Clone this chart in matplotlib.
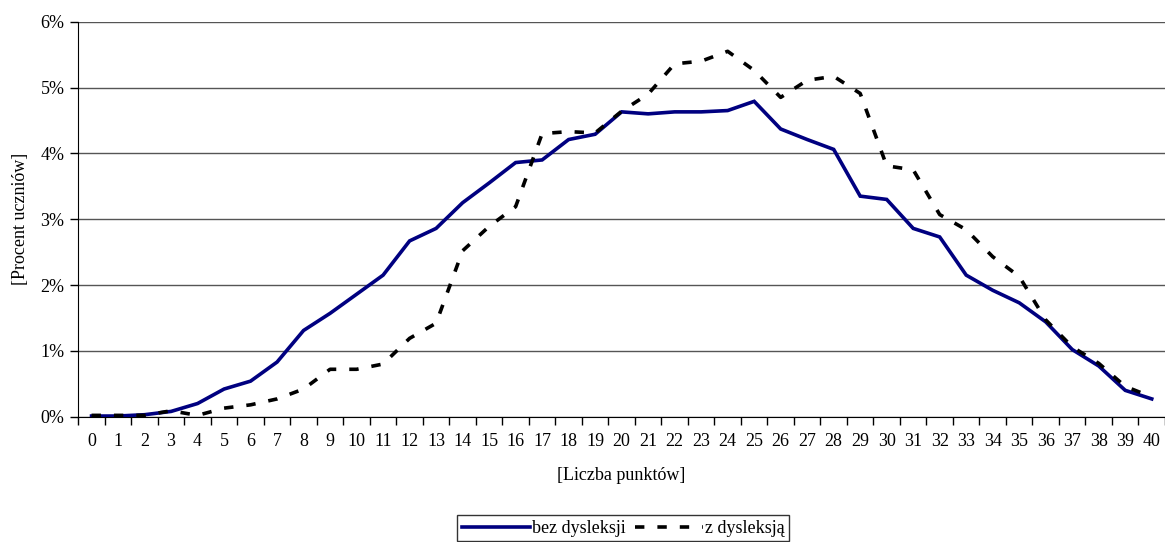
import matplotlib
matplotlib.use("Agg")
import matplotlib.pyplot as plt
from matplotlib.ticker import FixedLocator, PercentFormatter, NullFormatter
import numpy as np

plt.rcParams['font.family'] = ['Liberation Serif', 'DejaVu Serif']

# points 0..40
points = list(range(41))
# share of pupils (%)
bez_dysleksji = [0.01, 0.01, 0.03, 0.08, 0.20, 0.42, 0.54, 0.83, 1.31, 1.57,
                 1.86, 2.15, 2.67, 2.86, 3.25, 3.55, 3.86, 3.90, 4.21, 4.29,
                 4.63, 4.60, 4.63, 4.63, 4.65, 4.79, 4.37, 4.21, 4.06, 3.35,
                 3.30, 2.86, 2.73, 2.15, 1.92, 1.73, 1.44, 1.02, 0.77, 0.40,
                 0.27]
z_dysleksja = [0.02, 0.02, 0.02, 0.09, 0.02, 0.13, 0.18, 0.27, 0.42, 0.72,
               0.72, 0.80, 1.19, 1.42, 2.52, 2.89, 3.19, 4.30, 4.33, 4.31,
               4.64, 4.90, 5.36, 5.40, 5.55, 5.26, 4.85, 5.11, 5.17, 4.91,
               3.81, 3.75, 3.07, 2.84, 2.43, 2.13, 1.47, 1.06, 0.81, 0.46,
               0.30]
series_labels = ["bez dysleksji", "z dysleksją"]

fig = plt.figure(figsize=(11.65, 5.42), dpi=100)
ax = fig.add_axes([0.0672, 0.2312, 0.9328, 0.7288])

ax.plot(points, bez_dysleksji, color="#000080", lw=2.6, solid_joinstyle="miter",
        label=series_labels[0], zorder=3)
ax.plot(points, z_dysleksja, color="black", lw=2.6, dashes=(2.6, 3.6),
        label=series_labels[1], zorder=4)

ax.set_xlim(-0.5, 40.5)
ax.set_ylim(0, 6)
ax.yaxis.set_major_locator(FixedLocator(range(7)))
ax.yaxis.set_major_formatter(PercentFormatter(decimals=0))
ax.grid(axis="y", color="#555555", lw=1.0)
ax.set_axisbelow(True)

# category axis: ticks between categories, labels centred
ax.set_xticks(np.arange(-0.5, 40.6, 1))
ax.xaxis.set_major_formatter(NullFormatter())
ax.set_xticks(points, minor=True)
ax.set_xticklabels([str(p) for p in points], minor=True)
ax.tick_params(axis="x", which="minor", length=0, labelsize=13, pad=12)
ax.tick_params(axis="x", which="major", length=6, width=1, color="black")
ax.tick_params(axis="y", length=6, width=1, labelsize=13, pad=4)

for s in ["top", "right"]:
    ax.spines[s].set_visible(False)
ax.spines["left"].set_color("black")
ax.spines["bottom"].set_color("black")

ax.set_xlabel("[Liczba punktów]", fontsize=13, labelpad=12)
ax.set_ylabel("[Procent uczniów]", fontsize=13, labelpad=8)

leg = fig.legend(loc="center", bbox_to_anchor=(0.535, 0.025), ncol=2,
                 fontsize=13, frameon=True, fancybox=False, edgecolor="black",
                 handlelength=3.8, handletextpad=0.1, columnspacing=0.5,
                 borderpad=0.25, borderaxespad=0)
leg.get_frame().set_linewidth(1.0)

fig.savefig("out.png", dpi=100)
